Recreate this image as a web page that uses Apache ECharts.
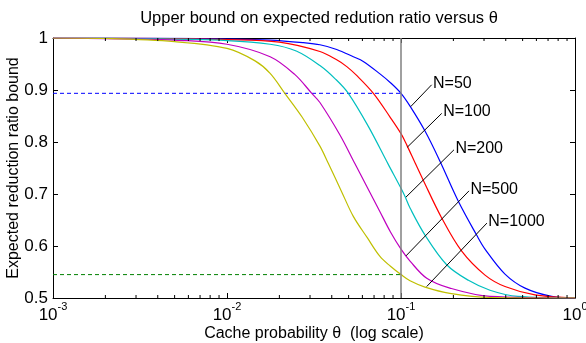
<!DOCTYPE html>
<html>
<head>
<meta charset="utf-8">
<script src="https://cdn.jsdelivr.net/npm/echarts@6/dist/echarts.min.js"></script>
<style>
html,body{margin:0;padding:0;background:#fff;}
#chart{width:586px;height:343px;}
</style>
</head>
<body>
<div id="chart"></div>
<script>
// curve readings: [theta, bound]
var n50 = [[0.001,1],[0.003,0.9998],[0.01,0.998],[0.0177,0.996],[0.0275,0.991],[0.0342,0.987],[0.0427,0.978],[0.0532,0.964],[0.0607,0.955],[0.0757,0.931],[0.087,0.914],[0.1,0.8936],[0.1127,0.869],[0.1374,0.821],[0.1675,0.763],[0.2135,0.686],[0.272,0.621],[0.304,0.594],[0.396,0.546],[0.516,0.519],[0.734,0.503],[1,0.5]];
var n100 = [[0.001,1],[0.003,0.9995],[0.01,0.997],[0.02,0.992],[0.0342,0.974],[0.0427,0.958],[0.0488,0.945],[0.0556,0.928],[0.0694,0.8936],[0.0865,0.848],[0.1,0.816],[0.108,0.794],[0.1204,0.760],[0.134,0.727],[0.1713,0.654],[0.2233,0.590],[0.304,0.544],[0.396,0.522],[0.589,0.506],[1,0.5]];
var n200 = [[0.001,1],[0.003,0.999],[0.01,0.995],[0.0177,0.988],[0.025,0.975],[0.0342,0.947],[0.042,0.921],[0.0498,0.8936],[0.0649,0.830],[0.0845,0.757],[0.1,0.711],[0.1055,0.695],[0.1127,0.673],[0.1374,0.621],[0.183,0.564],[0.244,0.534],[0.3246,0.515],[0.47,0.503],[1,0.5]];
var n500 = [[0.001,1],[0.003,0.998],[0.005,0.996],[0.01,0.988],[0.0177,0.964],[0.0245,0.930],[0.0307,0.8936],[0.0342,0.876],[0.0445,0.814],[0.0544,0.758],[0.0635,0.715],[0.0757,0.666],[0.087,0.627],[0.1,0.594],[0.1127,0.571],[0.1406,0.538],[0.191,0.519],[0.3246,0.503],[1,0.5]];
var n1000 = [[0.001,1],[0.002,0.999],[0.005,0.993],[0.01,0.980],[0.0145,0.956],[0.0177,0.932],[0.0215,0.8936],[0.027,0.848],[0.0342,0.792],[0.0382,0.759],[0.0455,0.705],[0.0532,0.657],[0.064,0.616],[0.0757,0.580],[0.087,0.561],[0.1,0.545],[0.1127,0.533],[0.1374,0.521],[0.191,0.509],[0.3246,0.501],[1,0.5]];

var curves = [n50, n100, n200, n500, n1000];
var names = ['N=50', 'N=100', 'N=200', 'N=500', 'N=1000'];
var colors = ['#0000ff', '#ff0000', '#00bfbf', '#bf00bf', '#bfbf00'];
// leader lines: [theta, bound] start on curve -> end at label
var leaders = [
    [[0.1137,0.868],[0.150,0.910]],
    [[0.1087,0.790],[0.1714,0.855]],
    [[0.1068,0.694],[0.2016,0.785]],
    [[0.1068,0.581],[0.2459,0.706]],
    [[0.1405,0.522],[0.3116,0.644]]
];
var markTheta = 0.1;
var upperLevel = 0.8936;
var lowerLevel = 0.545;
var minorTicks = [];
[0.001, 0.01, 0.1].forEach(function (d) {
    for (var k = 2; k <= 9; k++) minorTicks.push(d * k);
});

var chart = echarts.init(document.getElementById('chart'));
var font = 'Liberation Sans, Arial, sans-serif';

function axisX(pos, labels) {
    return {
        type: 'log', logBase: 10, min: 0.001, max: 1, position: pos,
        axisLine: {show: true, onZero: false, lineStyle: {color: '#000', width: 1}},
        axisTick: {show: true, inside: true, length: 5, lineStyle: {color: '#000'}},
        splitLine: {show: false},
        axisLabel: labels ? {
            show: true, margin: 3, color: '#000', fontFamily: font,
            formatter: function (v) {
                return '{b|10}{e|' + Math.round(Math.log10(v)) + '}';
            },
            rich: {
                b: {fontSize: 17, fontFamily: font, color: '#000', verticalAlign: 'bottom'},
                e: {fontSize: 11, fontFamily: font, color: '#000', padding: [0, 0, 12, 0], verticalAlign: 'bottom'}
            }
        } : {show: false},
        name: labels ? 'Cache probability θ  (log scale)' : '',
        nameLocation: 'middle', nameGap: 28, nameMoveOverlap: false,
        nameTextStyle: {fontSize: 16, fontFamily: font, color: '#000'}
    };
}
function axisY(pos, labels) {
    return {
        type: 'value', min: 0.5, max: 1, interval: 0.1, position: pos,
        axisLine: {show: true, onZero: false, lineStyle: {color: '#000', width: 1}},
        axisTick: {show: true, inside: true, length: 5, lineStyle: {color: '#000'}},
        splitLine: {show: false},
        axisLabel: labels ? {
            show: true, margin: 5, fontSize: 17, fontFamily: font, color: '#000',
            formatter: function (v) { return String(Math.round(v * 10) / 10); }
        } : {show: false},
        name: labels ? 'Expected reduction ratio bound' : '',
        nameLocation: 'middle', nameGap: 31, nameMoveOverlap: false,
        nameTextStyle: {fontSize: 16, fontFamily: font, color: '#000'}
    };
}

var series = curves.map(function (c, i) {
    return {
        type: 'line', name: names[i], data: c,
        showSymbol: false, smooth: 0.35,
        lineStyle: {color: colors[i], width: 1.2}, z: 3,
        markLine: {
            symbol: 'none', silent: true, animation: false,
            lineStyle: {color: '#000', width: 1, type: 'solid'},
            label: {
                show: true, position: 'end', distance: 2, formatter: names[i],
                align: 'left', verticalAlign: 'middle',
                fontSize: 16, fontFamily: font, color: '#000'
            },
            data: [[{coord: leaders[i][0]}, {coord: leaders[i][1]}]]
        }
    };
});
// vertical marker at theta = 0.1
series.push({
    type: 'line', data: [], z: 2,
    markLine: {
        symbol: 'none', silent: true, animation: false, label: {show: false},
        lineStyle: {color: '#808080', width: 1.5, type: 'solid'},
        data: [{xAxis: markTheta}]
    }
});
// dashed levels up to theta = 0.1
series.push({
    type: 'line', data: [[0.001, upperLevel], [markTheta, upperLevel]], z: 2,
    showSymbol: false, lineStyle: {color: '#0000ff', width: 1, type: [4, 3]}
});
series.push({
    type: 'line', data: [[0.001, lowerLevel], [markTheta, lowerLevel]], z: 2,
    showSymbol: false, lineStyle: {color: '#008000', width: 1, type: [4, 3]}
});
// minor log ticks on bottom and top
series.push({
    type: 'custom', silent: true, z: 4,
    data: minorTicks.map(function (t) { return [t]; }),
    renderItem: function (params, api) {
        var b = api.coord([api.value(0), 0.5]);
        var t = api.coord([api.value(0), 1]);
        var st = {stroke: '#000', lineWidth: 1};
        return {type: 'group', children: [
            {type: 'line', shape: {x1: b[0], y1: b[1], x2: b[0], y2: b[1] - 3}, style: st},
            {type: 'line', shape: {x1: t[0], y1: t[1], x2: t[0], y2: t[1] + 3}, style: st}
        ]};
    }
});

var option = {
    animation: false,
    backgroundColor: '#fff',
    title: {
        text: 'Upper bound on expected redution ratio versus θ',
        left: 314, top: 5, textAlign: 'center',
        textStyle: {fontSize: 16.5, fontWeight: 'normal', fontFamily: font, color: '#000'}
    },
    grid: {left: 53, right: 11, top: 38, bottom: 45, containLabel: false, outerBoundsMode: 'none'},
    xAxis: [axisX('bottom', true), axisX('top', false)],
    yAxis: [axisY('left', true), axisY('right', false)],
    series: series
};
chart.setOption(option);
</script>
</body>
</html>
